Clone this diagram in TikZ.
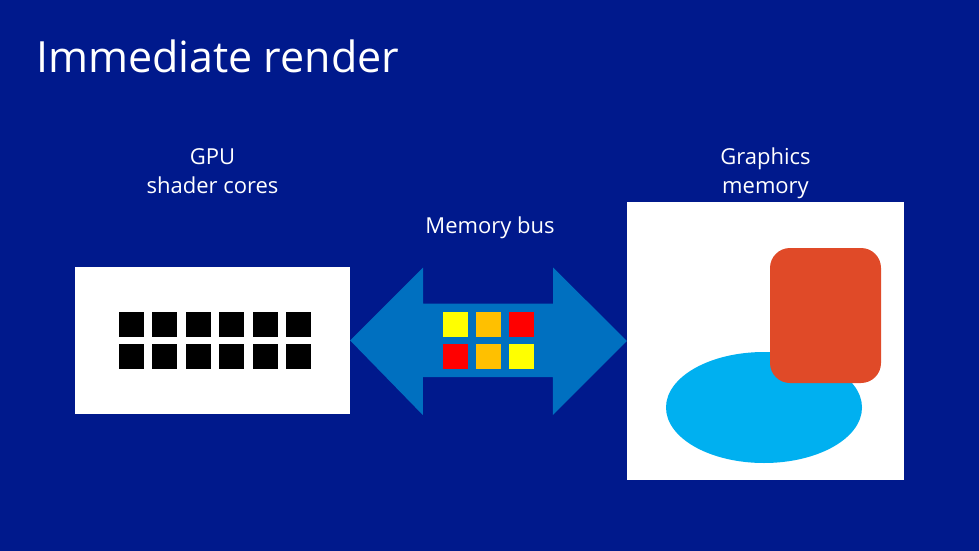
\documentclass[tikz,border=0pt]{standalone}
\usepackage{fontspec}
\setmainfont{Open Sans}
\usepackage{tikz}
\usetikzlibrary{shapes,calc,positioning}
\definecolor{slideblue}{RGB}{0,25,140}
\definecolor{busblue}{RGB}{0,112,192}
\definecolor{tileorange}{RGB}{255,192,0}
\definecolor{tileyellow}{RGB}{255,255,0}
\definecolor{tilered}{RGB}{255,0,0}
\definecolor{rectred}{RGB}{224,74,40}
\definecolor{blobcyan}{RGB}{0,176,240}
\tikzstyle{label} =
  [text=white, align=center, font=\fontsize{22}{29}\selectfont, inner sep=0pt]
\tikzstyle{panel} = [rectangle, fill=white, inner sep=0pt]
\tikzstyle{core} = [rectangle, fill=black, minimum size=25pt, inner sep=0pt]
\tikzstyle{tile} = [rectangle, minimum size=25pt, inner sep=0pt]

\begin{document}
\begin{tikzpicture}[x=1pt, y=-1pt]
  \fill [slideblue] (0,0) rectangle (979,551);
  \useasboundingbox (0,0) rectangle (979,551);
  \node [anchor=base west, text=white, inner sep=0pt,
    font=\fontsize{43}{50}\selectfont] (title) at (36,72) {Immediate render};

  \node [panel, minimum width=275pt, minimum height=147pt] (gpu) at (212.5,340.5) {};
  \node [panel, minimum width=277pt, minimum height=278pt] (mem) at (765.5,341) {};
  \node [label, above=73pt of gpu] (gpulabel) {GPU\\shader cores};
  \node [label, above=3pt of mem] (memlabel) {Graphics\\memory};

  % shader cores
  \foreach \i in {0,...,5} {
    \node [core] (c1\i) at (131.5+33.4*\i,324.5) {};
    \node [core] (c2\i) at (131.5+33.4*\i,356.5) {};
  }

  % memory bus
  \fill [busblue] (gpu.east) -- ++(73,-73) -- ++(0,36) -- ++(130,0)
    -- ++(0,-36) -- (mem.west) -- ++(-74,74) -- ++(0,-38) -- ++(-130,0)
    -- ++(0,38) -- cycle;
  \node [label] (buslabel) at (490,228) {Memory bus};
  \node [tile, fill=tileyellow] (t11) at (455.5,324.5) {};
  \node [tile, fill=tileorange] (t12) at (488.5,324.5) {};
  \node [tile, fill=tilered] (t13) at (521.5,324.5) {};
  \node [tile, fill=tilered] (t21) at (455.5,356.5) {};
  \node [tile, fill=tileorange] (t22) at (488.5,356.5) {};
  \node [tile, fill=tileyellow] (t23) at (521.5,356.5) {};

  % frame contents
  \node [ellipse, fill=blobcyan, inner sep=0pt, minimum width=196pt,
    minimum height=111pt] (blob) at (764,407.5) {};
  \node [rectangle, fill=rectred, rounded corners=20pt, inner sep=0pt,
    minimum width=111pt, minimum height=135pt] (block) at (825.5,315.5) {};
\end{tikzpicture}
\end{document}
